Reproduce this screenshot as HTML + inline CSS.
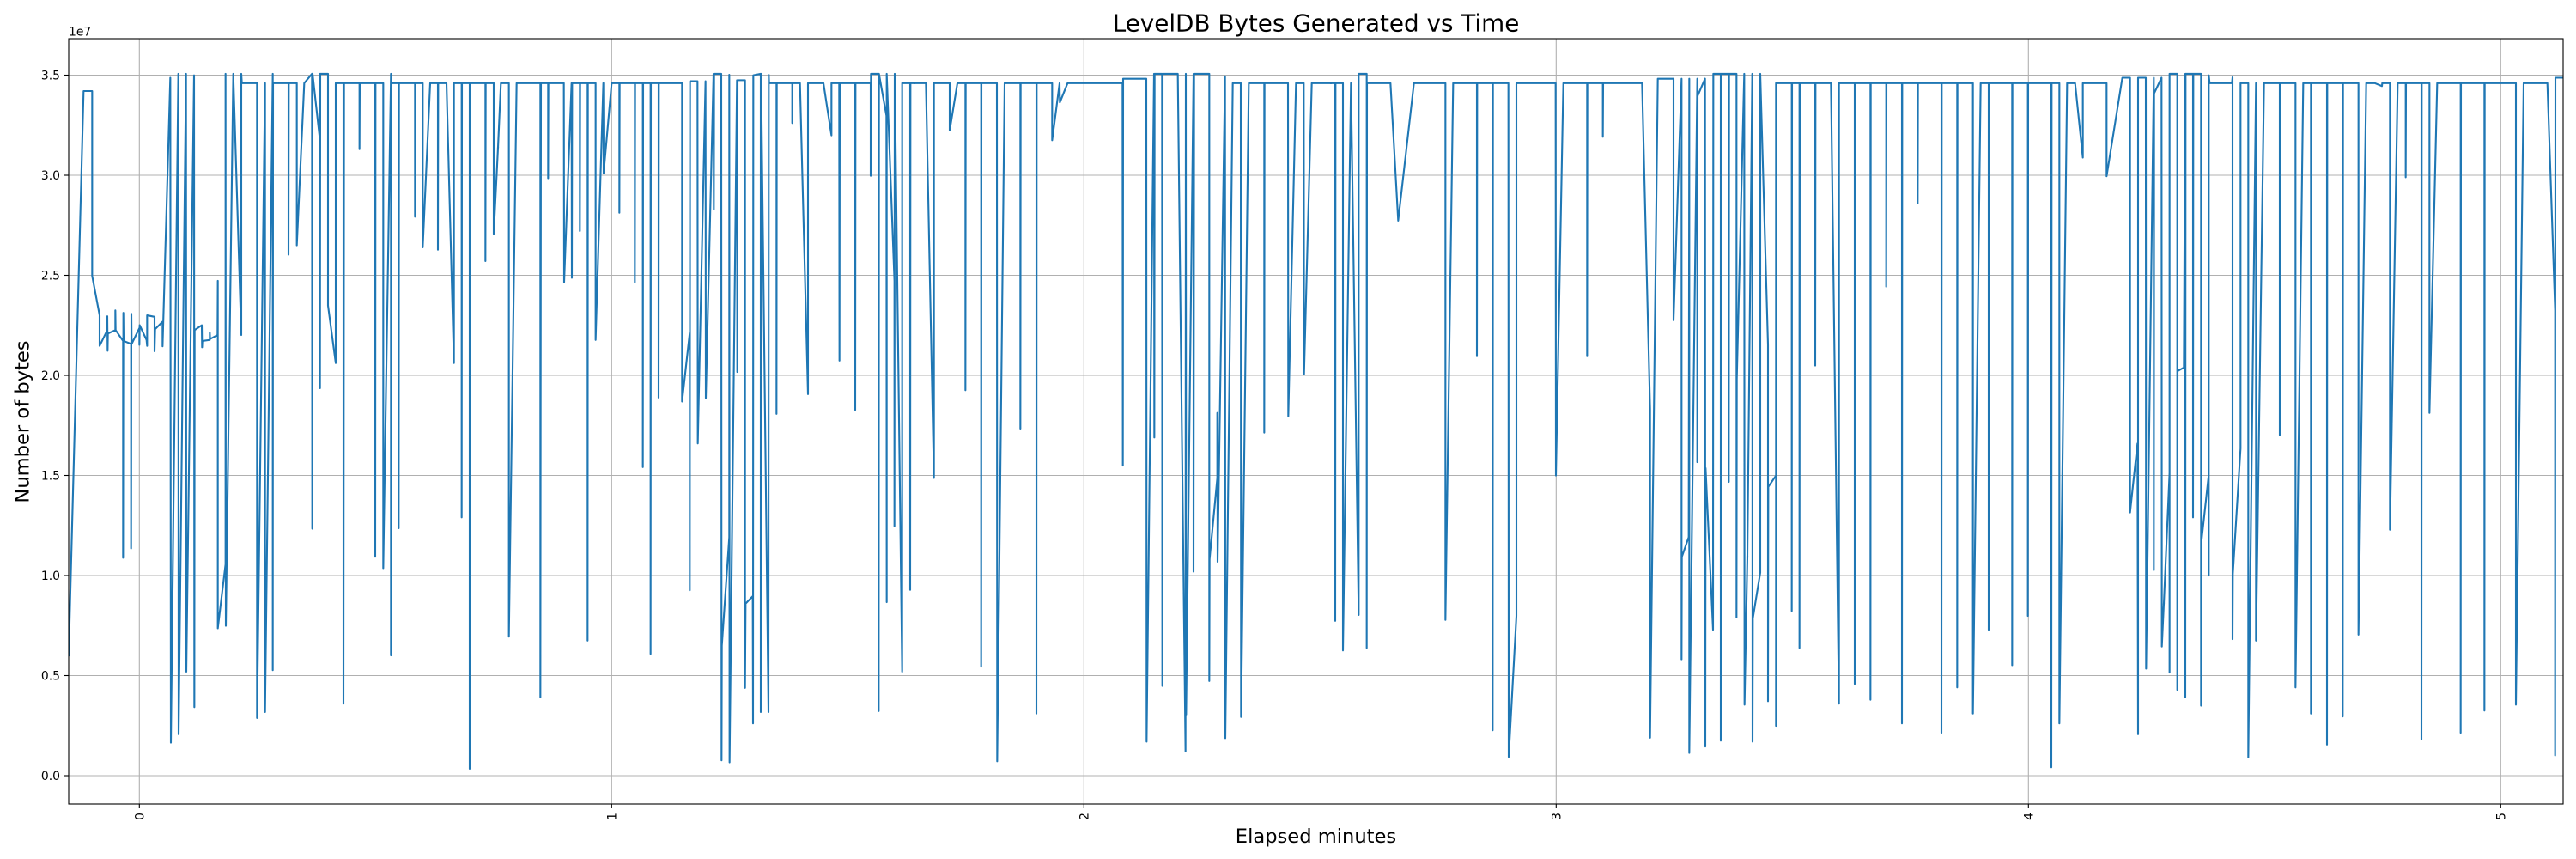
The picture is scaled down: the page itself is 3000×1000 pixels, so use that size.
<!DOCTYPE html>
<html>
<head>
<meta charset="utf-8">
<style>
  html, body { margin: 0; padding: 0; background: #ffffff; }
  svg { display: block; }
  text { font-family: "DejaVu Sans", "Liberation Sans", sans-serif; fill: #000; }
</style>
</head>
<body>
<svg width="3000" height="1000" viewBox="0 0 3000 1000" xmlns="http://www.w3.org/2000/svg">
  <rect x="0" y="0" width="3000" height="1000" fill="#ffffff"/>
  <defs>
    <clipPath id="ax">
      <rect x="80" y="45" width="2905" height="891"/>
    </clipPath>
  </defs>

  <!-- grid -->
  <g stroke="#b0b0b0" stroke-width="1.1" fill="none">
    <line x1="80" y1="903" x2="2985" y2="903"/>
    <line x1="80" y1="786.5" x2="2985" y2="786.5"/>
    <line x1="80" y1="670" x2="2985" y2="670"/>
    <line x1="80" y1="553.5" x2="2985" y2="553.5"/>
    <line x1="80" y1="437" x2="2985" y2="437"/>
    <line x1="80" y1="320.5" x2="2985" y2="320.5"/>
    <line x1="80" y1="204" x2="2985" y2="204"/>
    <line x1="80" y1="87.5" x2="2985" y2="87.5"/>
    <line x1="162.3" y1="45" x2="162.3" y2="936"/>
    <line x1="712.3" y1="45" x2="712.3" y2="936"/>
    <line x1="1262.3" y1="45" x2="1262.3" y2="936"/>
    <line x1="1812.3" y1="45" x2="1812.3" y2="936"/>
    <line x1="2362.3" y1="45" x2="2362.3" y2="936"/>
    <line x1="2912.3" y1="45" x2="2912.3" y2="936"/>
  </g>

  <!-- series -->
  <g clip-path="url(#ax)" fill="none" stroke="#1f77b4" stroke-width="2.1" stroke-linejoin="round" stroke-linecap="square">
    <g transform="translate(80,40) scale(0.333333,0.57382)">
      <polyline vector-effect="non-scaling-stroke" points="0,1260 52,115 82,115 82,490 108,570 108,632 135,600 135,572 136,642 137,607 163,600 163,560 164,600 190,622 190,1062 191,565 192,622 218,628 218,1043 219,567 220,628 247,596 247,630 248,590 272,620 274,632 274,570 300,573 300,643 302,598 328,583 328,633 355,88 357,1437 383,80 384,1420 410,80 411,1293 438,83 439,1365 440,600 465,590 466,635 467,622 493,620 493,605 494,618 520,610 521,500 521,1205 548,1075 548,80 549,1200 575,80 603,610 603,80 605,99 658,99 658,1387 686,99 686,1375 713,80 713,1290 714,99 768,99 768,447 769,99 797,99 797,428 823,99 850,80 851,1003 852,80 877,210 878,80 878,718 879,80 906,80 906,550 933,667 933,99 960,99 960,1358 962,99 1016,99 1016,233 1017,99 1071,99 1071,1060 1072,99 1099,99 1099,1083 1126,80 1126,1260 1127,99 1153,99 1153,1002 1154,99 1210,99 1210,370 1211,99 1237,99 1237,432 1263,99 1290,99 1290,437 1291,99 1320,99 1346,667 1346,99 1373,99 1373,980 1374,99 1401,99 1401,1490 1402,99 1456,99 1456,460 1457,99 1485,99 1485,405 1500,230"/>
    </g>
    <g transform="translate(580,40) scale(0.333333,0.57382)">
      <polyline vector-effect="non-scaling-stroke" points="0,230 10,99 38,99 38,1222 65,99 148,99 148,1345 150,99 175,99 175,292 176,99 230,99 231,503 257,99 258,494 259,99 286,99 286,399 287,99 313,99 313,1230 314,99 341,99 341,620 368,99 369,282 397,99 424,99 424,362 425,99 478,99 478,503 479,99 506,99 506,878 507,99 533,99 533,1257 534,99 561,99 561,737 562,99 643,99 643,745 670,605 670,1128 671,95 697,95 698,830 725,95 726,738 753,80 754,355 755,80 780,80 781,1473 782,1240 808,1020 808,82 809,1477 835,93 836,685 837,93 863,93 863,1326 865,1155 890,1140 891,1398 892,83 918,80 918,1375 919,80 945,1375 946,82 947,99 973,99 973,770 974,99 1028,99 1028,180 1029,99 1055,99 1083,730 1083,99 1137,99 1165,205 1165,99 1192,99 1193,662 1194,99 1248,99 1248,762 1249,99 1302,99 1302,287 1303,80 1330,80 1330,1373 1331,80 1357,165 1358,1152 1358,80 1385,500 1385,998 1386,80 1412,1293 1412,99 1440,99 1440,1127 1441,99 1455,99"/>
    </g>
    <g transform="translate(1065,40) scale(0.333333,0.57382)">
      <polyline vector-effect="non-scaling-stroke" points="0,99 40,99 68,900 68,99 123,99 123,195 150,99 178,99 178,722 179,99 233,99 233,1283 234,99 288,99 289,1475 315,99 370,99 370,800 371,99 426,99 426,1378 427,99 481,99 481,215 507,99 508,138 535,99 727,99 728,875 729,90 810,90 811,1435 837,80 838,818 839,80 865,80 866,1322 867,80 920,80 947,1455 948,80 949,1380 975,80 975,1090 977,80 1003,80 1030,80 1030,1312 1031,1065 1058,900 1058,768 1059,1070 1085,85 1086,1428 1112,99 1140,99 1141,1385 1168,99 1222,99 1222,808 1223,99 1305,99 1306,775 1333,99 1360,99 1361,690 1388,99 1455,99"/>
    </g>
    <g transform="translate(1550,40) scale(0.333333,0.57382)">
      <polyline vector-effect="non-scaling-stroke" points="0,99 15,99 15,1190 16,99 42,99 42,1250 70,99 97,1178 97,80 125,80 125,1245 126,99 208,99 235,378 290,99 400,99 400,1188 427,99 510,99 510,653 511,99 565,99 565,1412 566,99 620,99 621,1466 648,1180 648,99 785,99 786,895 812,99 895,99 895,653 896,99 950,99 950,208 951,99 1087,99 1115,760 1115,1427 1142,90 1197,90 1197,580 1225,90 1225,1268 1226,1060 1250,1020 1252,90 1252,1458 1280,90 1280,868 1281,125 1307,90 1308,1445 1309,880 1335,1208 1336,80 1362,80 1362,1433 1363,80 1390,80 1390,908 1391,80 1417,80 1417,1183 1418,700 1444,80 1445,1360 1455,1060"/>
    </g>
    <g transform="translate(2035,40) scale(0.333333,0.57382)">
      <polyline vector-effect="non-scaling-stroke" points="0,1060 17,80 18,1435 19,1185 45,1092 45,80 72,630 72,1353 73,918 100,895 100,1403 100,99 155,99 155,1170 156,99 182,99 182,1245 183,99 237,99 237,672 238,99 292,99 320,1358 320,99 375,99 375,1318 376,99 430,99 430,1350 431,99 485,99 485,512 486,99 540,99 540,1398 541,99 595,99 595,343 596,99 678,99 678,1417 679,99 733,99 733,1325 734,99 788,99 788,1378 815,99 843,99 843,1208 844,99 925,99 925,1280 926,99 980,99 980,1180 981,99 1062,99 1062,1487 1063,99 1090,99 1090,1398 1117,99 1145,99 1172,250 1172,99 1255,99 1255,288 1310,88 1337,88 1337,970 1363,830 1365,1420 1365,88 1392,88 1393,1287 1420,88 1420,1087 1421,120 1447,88 1448,1242 1455,1155"/>
    </g>
    <g transform="translate(2520,40) scale(0.333333,0.57382)">
      <polyline vector-effect="non-scaling-stroke" points="0,1155 20,890 20,1295 20,80 47,80 47,1330 48,683 70,676 75,80 75,1345 76,80 102,80 102,980 103,80 130,80 130,1362 131,1030 157,893 157,1098 157,83 160,99 238,99 240,87 240,1227 241,1095 268,840 268,99 295,99 295,1467 322,99 322,1230 350,99 405,99 405,813 406,99 460,99 460,1325 487,99 514,99 514,1378 515,99 570,99 570,1441 571,99 625,99 625,1384 626,99 680,99 680,1218 707,99 737,99 762,105 763,99 790,99 790,1005 817,99 845,99 845,290 846,99 900,99 900,1430 901,99 928,99 928,768 955,99 1037,99 1037,1417 1038,99 1120,99 1120,1372 1121,99 1230,99 1230,1360 1257,99 1340,99 1367,560 1367,1463 1368,88 1400,88"/>
    </g>
  </g>

  <!-- spines -->
  <rect x="80" y="45" width="2905" height="891" fill="none" stroke="#000" stroke-width="1.1"/>

  <!-- y ticks -->
  <g stroke="#000" stroke-width="1.1">
    <line x1="75" y1="903" x2="80" y2="903"/>
    <line x1="75" y1="786.5" x2="80" y2="786.5"/>
    <line x1="75" y1="670" x2="80" y2="670"/>
    <line x1="75" y1="553.5" x2="80" y2="553.5"/>
    <line x1="75" y1="437" x2="80" y2="437"/>
    <line x1="75" y1="320.5" x2="80" y2="320.5"/>
    <line x1="75" y1="204" x2="80" y2="204"/>
    <line x1="75" y1="87.5" x2="80" y2="87.5"/>
    <line x1="162.3" y1="936" x2="162.3" y2="941"/>
    <line x1="712.3" y1="936" x2="712.3" y2="941"/>
    <line x1="1262.3" y1="936" x2="1262.3" y2="941"/>
    <line x1="1812.3" y1="936" x2="1812.3" y2="941"/>
    <line x1="2362.3" y1="936" x2="2362.3" y2="941"/>
    <line x1="2912.3" y1="936" x2="2912.3" y2="941"/>
  </g>
  <g font-size="13.9" text-anchor="end">
    <text x="70" y="908">0.0</text>
    <text x="70" y="791.5">0.5</text>
    <text x="70" y="675">1.0</text>
    <text x="70" y="558.5">1.5</text>
    <text x="70" y="442">2.0</text>
    <text x="70" y="325.5">2.5</text>
    <text x="70" y="209">3.0</text>
    <text x="70" y="92.5">3.5</text>
  </g>
  <text x="80" y="41.5" font-size="13.9">1e7</text>

  <!-- x tick labels rotated -->
  <g font-size="13.9" text-anchor="end">
    <text transform="translate(167.3,946) rotate(-90)">0</text>
    <text transform="translate(717.3,946) rotate(-90)">1</text>
    <text transform="translate(1267.3,946) rotate(-90)">2</text>
    <text transform="translate(1817.3,946) rotate(-90)">3</text>
    <text transform="translate(2367.3,946) rotate(-90)">4</text>
    <text transform="translate(2917.3,946) rotate(-90)">5</text>
  </g>

  <!-- labels -->
  <text x="1532.5" y="36.5" font-size="27.8" text-anchor="middle">LevelDB Bytes Generated vs Time</text>
  <text x="1532.5" y="981" font-size="22.6" text-anchor="middle">Elapsed minutes</text>
  <text transform="translate(33.5,491) rotate(-90)" font-size="22.6" text-anchor="middle">Number of bytes</text>
</svg>
</body>
</html>
